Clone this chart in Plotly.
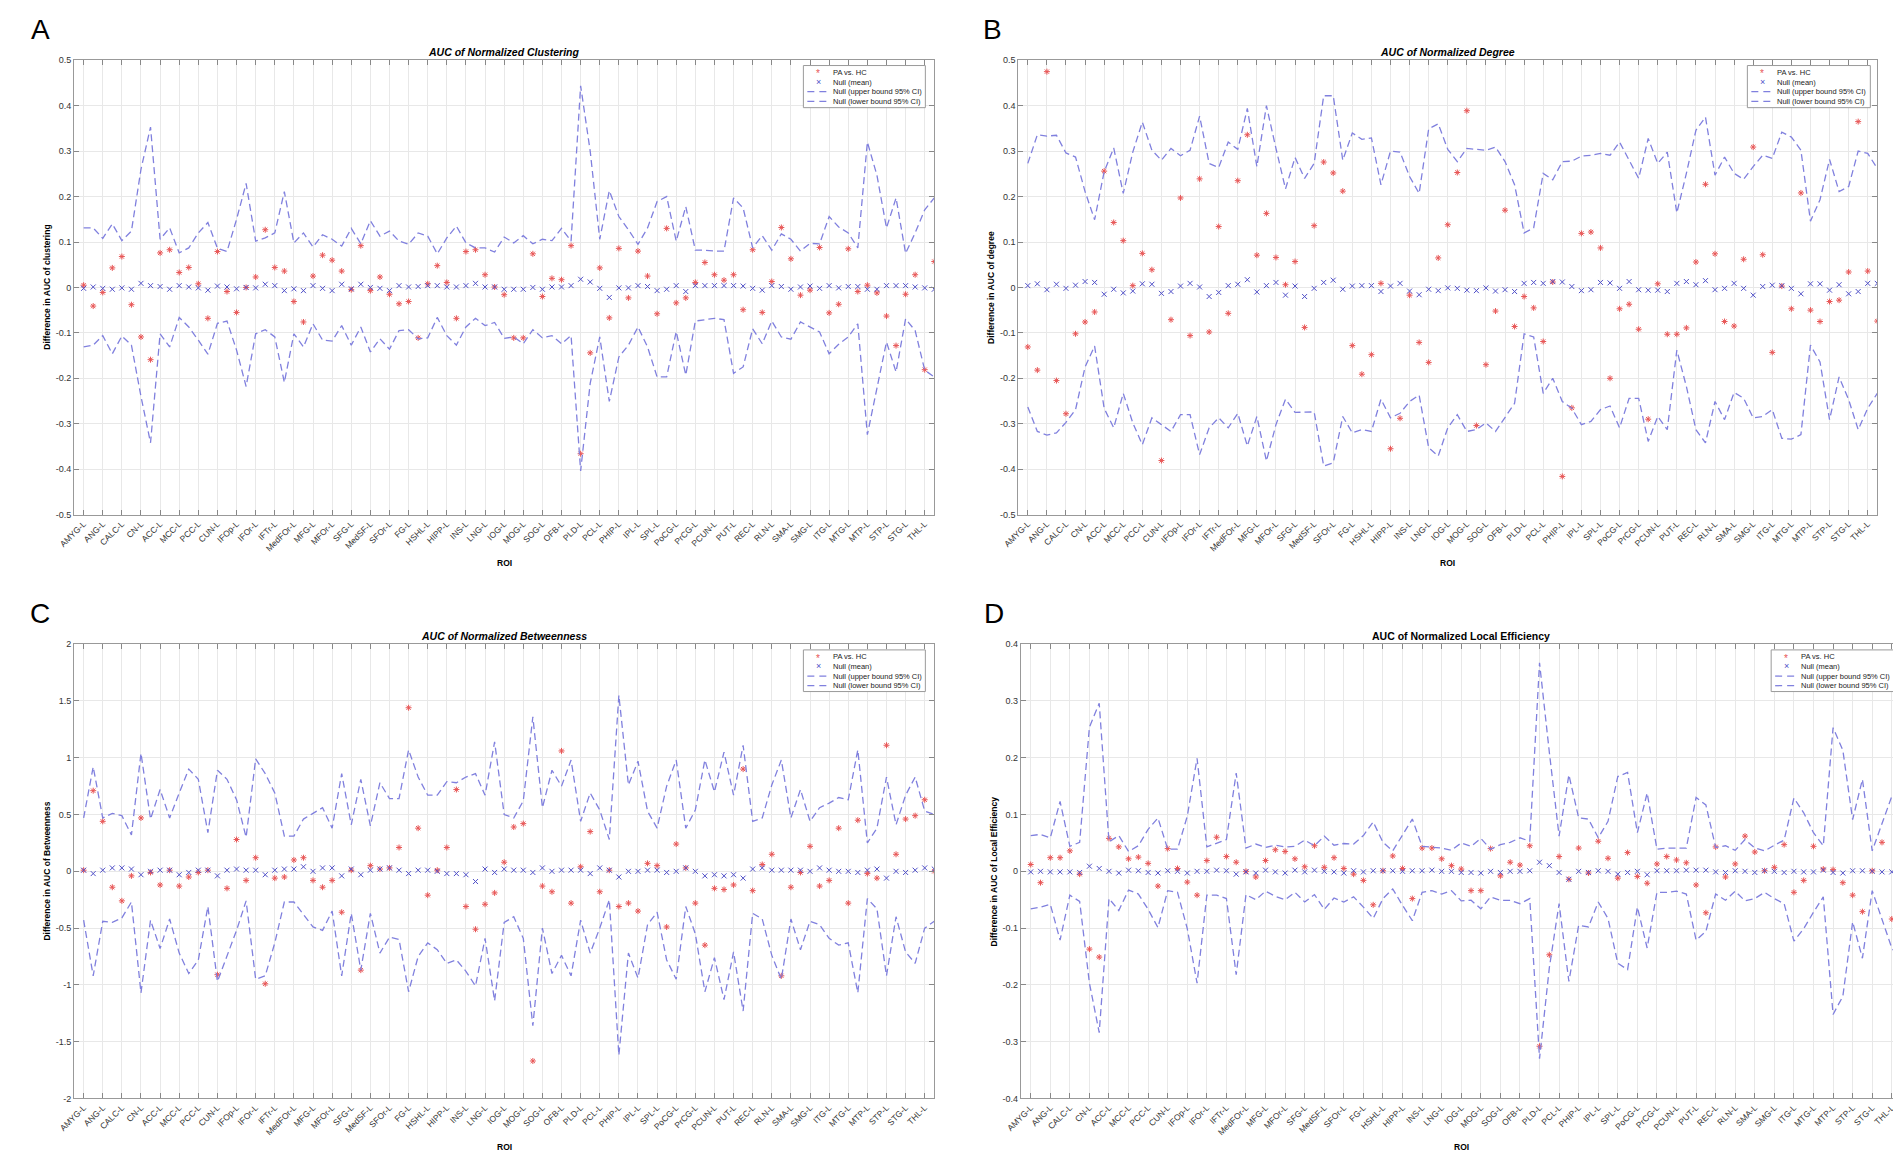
import plotly.graph_objects as go

# ROI tick labels (every other ROI, left hemisphere)
roi_labels = ["AMYG-L", "ANG-L", "CALC-L", "CN-L", "ACC-L", "MCC-L", "PCC-L", "CUN-L", "IFOp-L",
              "IFOr-L", "IFTr-L", "MedFOr-L", "MFG-L", "MFOr-L", "SFG-L", "MedSF-L", "SFOr-L", "FG-L",
              "HSHL-L", "HIPP-L", "INS-L", "LNG-L", "IOG-L", "MOG-L", "SOG-L", "OFB-L", "PLD-L",
              "PCL-L", "PHIP-L", "IPL-L", "SPL-L", "PoCG-L", "PrCG-L", "PCUN-L", "PUT-L", "REC-L",
              "RLN-L", "SMA-L", "SMG-L", "ITG-L", "MTG-L", "MTP-L", "STP-L", "STG-L", "THL-L"]
roi_index = list(range(1, 91))
roi_tick_index = list(range(1, 91, 2))
legend_names = ["PA vs. HC", "Null (mean)", "Null (upper bound 95% CI)", "Null (lower bound 95% CI)"]

# A: clustering
clus_obs = [0.005, -0.041, -0.011, 0.043, 0.068, -0.038, -0.109, -0.159, 0.076, 0.083, 0.033, 0.044, 0.008, -0.068, 0.079,
            -0.009, -0.055, 0.000, 0.023, 0.127, 0.044, 0.036, -0.031, -0.076, 0.025, 0.071, 0.060, 0.036, -0.005, 0.092,
            -0.007, 0.023, -0.015, -0.036, -0.031, -0.111, 0.008, 0.048, 0.011, -0.068, 0.079, 0.083, 0.028, 0.001, -0.016,
            -0.111, -0.111, 0.074, -0.020, 0.020, 0.017, 0.092, -0.366, -0.144, 0.043, -0.067, 0.086, -0.023, 0.080, 0.025,
            -0.058, 0.130, -0.034, -0.023, 0.011, 0.055, 0.028, 0.016, 0.028, -0.049, 0.083, -0.055, 0.013, 0.132, 0.063,
            -0.017, -0.006, 0.088, -0.056, -0.037, 0.085, -0.009, 0.005, -0.012, -0.063, -0.128, -0.015, 0.028, -0.181, 0.057]
clus_mean = [-0.002, 0.001, -0.002, -0.004, -0.001, -0.004, 0.009, 0.004, 0.002, -0.004, 0.004, 0.001, -0.001, -0.006, 0.003,
             0.001, -0.003, 0.000, -0.001, 0.007, 0.004, -0.007, -0.003, -0.007, 0.004, -0.002, -0.007, 0.007, -0.003, 0.007,
             0.000, -0.002, -0.007, 0.004, 0.001, 0.002, 0.004, 0.004, 0.001, 0.001, 0.004, 0.009, 0.001, 0.001, -0.004,
             -0.004, -0.004, 0.000, -0.004, 0.001, 0.001, 0.004, 0.018, 0.012, -0.002, -0.022, -0.001, -0.001, 0.004, 0.002,
             -0.007, -0.004, 0.004, -0.009, 0.004, 0.004, 0.004, 0.004, 0.004, 0.003, -0.002, -0.006, 0.004, 0.002, -0.004,
             0.001, 0.003, -0.002, 0.004, -0.001, 0.002, 0.002, -0.004, -0.004, 0.004, 0.004, 0.004, 0.001, -0.001, -0.004]
clus_up = [0.131, 0.131, 0.108, 0.140, 0.103, 0.124, 0.26, 0.353, 0.106, 0.131, 0.076, 0.087, 0.120, 0.143, 0.086,
           0.079, 0.15, 0.229, 0.102, 0.109, 0.120, 0.211, 0.098, 0.120, 0.089, 0.116, 0.106, 0.091, 0.130, 0.096,
           0.147, 0.113, 0.124, 0.102, 0.095, 0.120, 0.113, 0.074, 0.109, 0.135, 0.098, 0.087, 0.087, 0.078, 0.111,
           0.098, 0.114, 0.096, 0.106, 0.103, 0.130, 0.102, 0.444, 0.30, 0.106, 0.213, 0.156, 0.127, 0.095, 0.131,
           0.189, 0.200, 0.102, 0.178, 0.082, 0.082, 0.080, 0.080, 0.197, 0.175, 0.087, 0.114, 0.082, 0.118, 0.106,
           0.080, 0.097, 0.096, 0.156, 0.133, 0.120, 0.087, 0.320, 0.247, 0.131, 0.197, 0.075, 0.120, 0.171, 0.197]
clus_lo = [-0.131, -0.127, -0.106, -0.146, -0.107, -0.127, -0.24, -0.342, -0.102, -0.131, -0.066, -0.087, -0.116, -0.147, -0.079,
           -0.074, -0.138, -0.218, -0.102, -0.093, -0.109, -0.209, -0.102, -0.131, -0.080, -0.116, -0.118, -0.084, -0.127, -0.087,
           -0.142, -0.113, -0.136, -0.095, -0.093, -0.113, -0.111, -0.066, -0.106, -0.127, -0.087, -0.068, -0.084, -0.077, -0.112,
           -0.109, -0.124, -0.093, -0.111, -0.106, -0.124, -0.106, -0.404, -0.211, -0.109, -0.251, -0.153, -0.127, -0.087, -0.131,
           -0.197, -0.197, -0.097, -0.193, -0.074, -0.071, -0.068, -0.071, -0.189, -0.175, -0.091, -0.124, -0.074, -0.109, -0.114,
           -0.076, -0.087, -0.098, -0.146, -0.125, -0.109, -0.080, -0.324, -0.218, -0.120, -0.186, -0.069, -0.095, -0.182, -0.197]

# B: degree
deg_obs = [-0.131, -0.182, 0.475, -0.205, -0.278, -0.102, -0.076, -0.054, 0.256, 0.143, 0.103, 0.004, 0.075, 0.039, -0.381,
           -0.071, 0.197, -0.106, 0.239, -0.098, 0.134, -0.057, 0.235, 0.336, 0.071, 0.163, 0.066, 0.006, 0.057, -0.088,
           0.136, 0.276, 0.252, 0.212, -0.128, -0.191, -0.148, 0.009, -0.355, -0.288, -0.017, -0.121, -0.165, 0.065, 0.138,
           0.253, 0.389, -0.304, -0.170, -0.052, 0.170, -0.086, -0.020, -0.045, -0.119, 0.012, -0.416, -0.265, 0.119, 0.122,
           0.087, -0.200, -0.047, -0.037, -0.092, -0.290, 0.008, -0.103, -0.103, -0.089, 0.056, 0.227, 0.074, -0.075, -0.085,
           0.062, 0.309, 0.072, -0.143, 0.003, -0.047, 0.208, -0.050, -0.075, -0.031, -0.028, 0.034, 0.365, 0.036, -0.074]
deg_mean = [0.004, 0.008, -0.005, 0.007, -0.002, 0.005, 0.013, 0.011, -0.015, -0.004, -0.012, -0.008, 0.008, 0.007, -0.013,
            -0.009, 0.003, 0.009, 0.001, -0.020, -0.011, 0.004, 0.007, 0.017, -0.010, 0.004, 0.011, -0.017, 0.003, -0.020,
            -0.002, 0.011, 0.016, -0.004, 0.003, 0.004, 0.004, -0.009, 0.003, 0.009, -0.008, -0.016, -0.004, -0.007, -0.001,
            -0.002, -0.006, -0.007, -0.001, -0.008, -0.005, -0.009, 0.009, 0.011, 0.009, 0.013, 0.012, 0.002, -0.007, -0.005,
            0.011, 0.010, -0.002, 0.013, -0.005, -0.006, -0.006, -0.009, 0.009, 0.013, 0.006, 0.015, -0.005, -0.002, 0.009,
            -0.002, -0.017, 0.002, 0.005, 0.004, -0.002, -0.014, 0.008, 0.008, -0.006, 0.006, -0.014, -0.009, 0.009, 0.009]
deg_up = [0.273, 0.336, 0.333, 0.335, 0.296, 0.287, 0.211, 0.149, 0.255, 0.307, 0.207, 0.298, 0.364, 0.302, 0.280,
          0.306, 0.290, 0.302, 0.377, 0.273, 0.264, 0.320, 0.304, 0.394, 0.266, 0.400, 0.306, 0.217, 0.286, 0.240,
          0.273, 0.422, 0.422, 0.280, 0.340, 0.326, 0.329, 0.226, 0.300, 0.298, 0.244, 0.207, 0.349, 0.360, 0.304,
          0.277, 0.306, 0.304, 0.302, 0.309, 0.277, 0.226, 0.120, 0.131, 0.251, 0.237, 0.277, 0.278, 0.289, 0.291,
          0.295, 0.291, 0.320, 0.280, 0.240, 0.328, 0.273, 0.298, 0.164, 0.251, 0.346, 0.375, 0.247, 0.287, 0.251,
          0.238, 0.266, 0.291, 0.284, 0.342, 0.331, 0.302, 0.146, 0.193, 0.282, 0.211, 0.222, 0.300, 0.295, 0.262]
deg_lo = [-0.263, -0.317, -0.325, -0.320, -0.297, -0.269, -0.175, -0.129, -0.266, -0.309, -0.233, -0.298, -0.346, -0.287, -0.302,
          -0.317, -0.280, -0.280, -0.368, -0.309, -0.287, -0.309, -0.277, -0.349, -0.284, -0.382, -0.302, -0.246, -0.275, -0.274,
          -0.274, -0.393, -0.386, -0.284, -0.320, -0.313, -0.317, -0.246, -0.287, -0.277, -0.251, -0.237, -0.353, -0.371, -0.309,
          -0.280, -0.317, -0.313, -0.298, -0.317, -0.287, -0.255, -0.102, -0.109, -0.233, -0.200, -0.251, -0.266, -0.302, -0.295,
          -0.269, -0.261, -0.309, -0.244, -0.244, -0.339, -0.284, -0.313, -0.138, -0.218, -0.313, -0.342, -0.251, -0.291, -0.231,
          -0.244, -0.287, -0.284, -0.269, -0.332, -0.334, -0.324, -0.127, -0.164, -0.291, -0.197, -0.247, -0.313, -0.266, -0.233]

# C: betweenness
betw_obs = [0.01, 0.71, 0.44, -0.14, -0.26, -0.04, 0.47, -0.01, -0.12, 0.01, -0.13, -0.05, -0.01, 0.01, -0.91,
            -0.15, 0.28, -0.08, 0.12, -0.99, -0.06, -0.05, 0.10, 0.12, -0.08, -0.14, -0.08, -0.36, 0.01, -0.87,
            0.05, 0.02, 0.03, 0.21, 1.44, 0.38, -0.21, 0.01, 0.21, 0.72, -0.31, -0.51, -0.29, -0.19, 0.08,
            0.39, 0.42, -1.67, -0.13, -0.18, 1.06, -0.28, 0.04, 0.35, -0.18, 0.01, -0.31, -0.28, -0.35, 0.07,
            0.05, -0.49, 0.24, 0.03, -0.28, -0.65, -0.15, -0.16, -0.12, 0.90, -0.17, 0.06, 0.15, -0.92, -0.14,
            -0.01, 0.22, -0.13, -0.08, 0.38, -0.28, 0.45, -0.02, -0.06, 1.11, 0.15, 0.46, 0.49, 0.63, 0.00]
betw_mean = [0.01, -0.02, 0.01, 0.03, 0.03, 0.02, -0.03, 0.00, 0.01, 0.01, -0.03, -0.01, 0.01, 0.01, -0.04,
             0.01, 0.02, 0.01, 0.01, -0.03, 0.01, 0.02, 0.02, 0.04, 0.00, 0.03, 0.03, -0.04, 0.02, -0.03,
             0.01, 0.02, 0.03, 0.01, -0.02, 0.01, 0.01, 0.00, -0.02, -0.02, -0.03, -0.09, 0.02, -0.01, 0.02,
             0.01, 0.01, -0.01, 0.03, 0.00, 0.01, 0.01, 0.01, -0.02, 0.03, 0.01, -0.05, 0.00, 0.00, 0.01,
             0.01, -0.01, 0.00, 0.03, 0.00, -0.04, -0.03, -0.04, -0.03, -0.06, 0.02, 0.03, 0.01, 0.01, 0.01,
             0.01, 0.00, 0.03, 0.01, 0.00, 0.00, -0.01, 0.01, 0.02, -0.06, 0.00, -0.01, 0.01, 0.03, 0.02]
betw_up = [0.47, 0.92, 0.47, 0.51, 0.49, 0.32, 1.04, 0.46, 0.72, 0.47, 0.69, 0.90, 0.81, 0.34, 0.89,
           0.81, 0.63, 0.30, 0.99, 0.86, 0.69, 0.31, 0.31, 0.46, 0.51, 0.56, 0.38, 0.86, 0.41, 0.81,
           0.40, 0.78, 0.64, 0.64, 1.07, 0.83, 0.67, 0.67, 0.79, 0.78, 0.83, 0.86, 0.67, 1.14, 0.50,
           0.47, 0.62, 1.36, 0.56, 0.89, 0.75, 0.98, 0.44, 0.69, 0.54, 0.28, 1.55, 0.76, 0.97, 0.53,
           0.38, 0.75, 0.98, 0.38, 0.54, 0.98, 0.70, 1.05, 0.67, 1.11, 0.44, 0.47, 0.76, 0.98, 0.47,
           0.72, 0.44, 0.56, 0.60, 0.65, 0.63, 1.07, 0.25, 0.38, 0.83, 0.41, 0.67, 0.83, 0.53, 0.50]
betw_lo = [-0.43, -0.92, -0.44, -0.45, -0.41, -0.27, -1.07, -0.43, -0.68, -0.42, -0.72, -0.90, -0.78, -0.31, -0.97,
           -0.74, -0.52, -0.26, -0.95, -0.92, -0.63, -0.27, -0.27, -0.38, -0.49, -0.52, -0.35, -0.92, -0.37, -0.87,
           -0.37, -0.72, -0.58, -0.60, -1.06, -0.75, -0.63, -0.69, -0.81, -0.78, -0.88, -1.01, -0.59, -1.14, -0.45,
           -0.40, -0.59, -1.36, -0.50, -0.90, -0.74, -0.92, -0.43, -0.72, -0.50, -0.25, -1.62, -0.72, -0.94, -0.47,
           -0.36, -0.78, -0.95, -0.31, -0.55, -1.06, -0.76, -1.13, -0.71, -1.23, -0.37, -0.42, -0.74, -0.95, -0.42,
           -0.69, -0.44, -0.47, -0.59, -0.65, -0.63, -1.07, -0.24, -0.33, -0.92, -0.40, -0.71, -0.81, -0.50, -0.44]

# D: local efficiency
leff_obs = [0.012, -0.020, 0.024, 0.024, 0.036, -0.005, -0.137, -0.151, 0.058, 0.043, 0.022, 0.025, 0.014, -0.026, 0.040,
            0.005, -0.019, -0.042, 0.019, 0.060, 0.026, 0.016, 0.000, -0.010, 0.019, 0.038, 0.035, 0.022, 0.008, 0.045,
            0.007, 0.024, 0.005, -0.005, -0.016, -0.059, 0.001, 0.027, 0.005, -0.048, 0.041, 0.041, 0.022, 0.010, 0.004,
            -0.034, -0.034, 0.040, -0.008, 0.016, 0.011, 0.045, -0.308, -0.147, 0.026, -0.014, 0.041, -0.003, 0.053, 0.023,
            -0.012, 0.033, -0.009, -0.021, 0.013, 0.026, 0.020, 0.015, -0.024, -0.073, 0.043, -0.010, 0.013, 0.062, 0.034,
            0.001, 0.007, 0.047, -0.037, -0.016, 0.044, 0.004, 0.003, -0.020, -0.042, -0.071, 0.001, 0.051, -0.084, 0.062]
leff_mean = [-0.001, 0.000, -0.001, -0.001, -0.001, -0.002, 0.009, 0.005, 0.000, -0.003, 0.002, 0.001, -0.002, -0.003, 0.001,
             0.000, -0.003, 0.000, 0.000, 0.002, 0.001, -0.005, -0.001, -0.003, 0.002, -0.001, -0.003, 0.002, -0.001, 0.002,
             0.000, -0.001, -0.003, 0.001, -0.001, 0.001, 0.001, 0.001, 0.000, 0.001, 0.001, 0.002, 0.000, 0.000, -0.002,
             -0.002, -0.003, 0.000, -0.002, 0.000, 0.000, 0.001, 0.016, 0.010, -0.002, -0.014, 0.000, -0.002, 0.001, 0.000,
             -0.005, -0.002, 0.000, -0.006, 0.001, 0.001, 0.001, 0.002, 0.002, 0.002, -0.001, -0.002, 0.001, 0.000, -0.002,
             0.001, 0.000, -0.002, 0.000, -0.001, -0.001, 0.002, -0.002, -0.003, 0.001, 0.001, 0.000, -0.001, -0.001, 0.000]
leff_up = [0.063, 0.065, 0.059, 0.123, 0.044, 0.051, 0.254, 0.296, 0.052, 0.063, 0.035, 0.045, 0.074, 0.094, 0.039,
           0.039, 0.097, 0.199, 0.043, 0.049, 0.056, 0.173, 0.041, 0.048, 0.042, 0.046, 0.043, 0.044, 0.055, 0.045,
           0.062, 0.046, 0.049, 0.048, 0.063, 0.087, 0.051, 0.036, 0.065, 0.092, 0.044, 0.042, 0.041, 0.037, 0.050,
           0.044, 0.058, 0.039, 0.047, 0.051, 0.059, 0.053, 0.367, 0.21, 0.062, 0.170, 0.094, 0.092, 0.059, 0.088,
           0.167, 0.174, 0.068, 0.138, 0.039, 0.041, 0.041, 0.041, 0.130, 0.117, 0.042, 0.045, 0.037, 0.056, 0.041,
           0.036, 0.046, 0.055, 0.129, 0.103, 0.068, 0.045, 0.253, 0.213, 0.091, 0.162, 0.036, 0.083, 0.132, 0.155]
leff_lo = [-0.066, -0.063, -0.058, -0.121, -0.042, -0.053, -0.197, -0.284, -0.048, -0.069, -0.033, -0.040, -0.067, -0.099, -0.034,
           -0.037, -0.101, -0.197, -0.042, -0.042, -0.048, -0.182, -0.041, -0.050, -0.035, -0.044, -0.050, -0.037, -0.054, -0.041,
           -0.067, -0.047, -0.054, -0.045, -0.063, -0.083, -0.048, -0.031, -0.060, -0.087, -0.037, -0.034, -0.040, -0.034, -0.052,
           -0.051, -0.066, -0.045, -0.051, -0.051, -0.057, -0.048, -0.330, -0.170, -0.057, -0.194, -0.095, -0.098, -0.054, -0.083,
           -0.162, -0.173, -0.063, -0.135, -0.037, -0.037, -0.035, -0.040, -0.121, -0.106, -0.040, -0.051, -0.035, -0.052, -0.048,
           -0.037, -0.048, -0.057, -0.123, -0.101, -0.072, -0.045, -0.252, -0.220, -0.089, -0.153, -0.034, -0.086, -0.135, -0.159]

# y ticks per panel
ytick_small = [-0.5, -0.4, -0.3, -0.2, -0.1, 0, 0.1, 0.2, 0.3, 0.4, 0.5]
ytick_betw = [-2, -1.5, -1, -0.5, 0, 0.5, 1, 1.5, 2]
ytick_leff = [-0.4, -0.3, -0.2, -0.1, 0, 0.1, 0.2, 0.3, 0.4]

W, H = 1901, 1150
FONT = "Liberation Sans"
RED = "rgb(232,86,86)"
BLUE = "rgb(80,80,200)"
DASH = "rgb(128,128,222)"


def px(x):
    return x / W


def py(y):
    return 1 - y / H


panels = [
    # letter, title, ytitle, data, yticks, xdom(px), ydom(px), letter offset, legend box (px)
    ("A", "<b><i>AUC of Normalized Clustering</i></b>", "Difference in AUC of clustering",
     (clus_obs, clus_mean, clus_up, clus_lo), ytick_small, (50.5, 918), (47.7, 506), 34, (786, 53, 909, 95.5)),
    ("B", "<b><i>AUC of Normalized Degree</i></b>", "Difference in AUC of degree",
     (deg_obs, deg_mean, deg_up, deg_lo), ytick_small, (1002.7, 1869), (47.7, 506), 26, (1738, 53, 1862, 95.5)),
    ("C", "<b><i>AUC of Normalized Betweenness</i></b>", "Difference in AUC of Betweenness",
     (betw_obs, betw_mean, betw_up, betw_lo), ytick_betw, (50.5, 918), (636.7, 1095), 34, (786, 642.5, 909, 684.5)),
    ("D", "<b>AUC of Normalized Local Efficiency</b>", "Difference in AUC of Local Efficiency",
     (leff_obs, leff_mean, leff_up, leff_lo), ytick_leff, (1005.4, 1893.5), (636.7, 1095), 27, (1762, 642.5, 1889, 684.5)),
]

fig = go.Figure()
annotations = []
shapes = []
layout = {}

for k, (letter, title, ytitle, data, yticks, xd, yd, loff, lb) in enumerate(panels):
    n = "" if k == 0 else str(k + 1)
    obs, mean, up, lo = data
    common = dict(x=roi_index, xaxis="x" + n, yaxis="y" + n, showlegend=False)
    fig.add_trace(go.Scatter(y=obs, mode="markers", name=legend_names[0],
                             marker=dict(symbol="asterisk-open", size=5, color=RED,
                                         line=dict(color=RED, width=1)), **common))
    fig.add_trace(go.Scatter(y=mean, mode="markers", name=legend_names[1],
                             marker=dict(symbol="x-thin-open", size=5, color=BLUE,
                                         line=dict(color=BLUE, width=1)), **common))
    fig.add_trace(go.Scatter(y=up, mode="lines", name=legend_names[2],
                             line=dict(color=DASH, width=1.3, dash="7px,4px"), **common))
    fig.add_trace(go.Scatter(y=lo, mode="lines", name=legend_names[3],
                             line=dict(color=DASH, width=1.3, dash="7px,4px"), **common))

    layout["xaxis" + n] = dict(
        domain=[px(xd[0]), px(xd[1])], anchor="y" + n, range=[0, 90],
        tickvals=roi_tick_index, ticktext=roi_labels, tickangle=-45,
        tickfont=dict(size=8.5, color="#333"), ticks="inside", ticklen=5, tickcolor="#888",
        showline=True, linecolor="#999", linewidth=1, mirror="ticks",
        showgrid=True, gridcolor="rgb(232,232,232)", gridwidth=1, zeroline=False)
    layout["yaxis" + n] = dict(
        domain=[py(yd[1]), py(yd[0])], anchor="x" + n, range=[yticks[0], yticks[-1]],
        tickvals=yticks, ticktext=["%g" % v for v in yticks],
        tickfont=dict(size=9, color="#333"), ticks="inside", ticklen=5, tickcolor="#888",
        showline=True, linecolor="#999", linewidth=1, mirror="ticks",
        showgrid=True, gridcolor="rgb(232,232,232)", gridwidth=1, zeroline=False)

    xc = (xd[0] + xd[1]) / 2
    annotations += [
        dict(text=letter, x=px(xd[0] - loff), y=py(yd[0] - 31), xref="paper", yref="paper",
             showarrow=False, font=dict(family=FONT, size=28, color="black"),
             xanchor="center", yanchor="middle"),
        dict(text=title, x=px(xc), y=py(yd[0] - 8), xref="paper", yref="paper", showarrow=False,
             font=dict(family=FONT, size=10.5, color="black"), xanchor="center", yanchor="middle"),
        dict(text="<b>" + ytitle + "</b>", x=px(xd[0] - 27), y=py((yd[0] + yd[1]) / 2),
             xref="paper", yref="paper", showarrow=False, textangle=-90,
             font=dict(family=FONT, size=8.5, color="black"), xanchor="center", yanchor="middle"),
        dict(text="<b>ROI</b>", x=px(xc), y=py(yd[1] + 49), xref="paper", yref="paper",
             showarrow=False, font=dict(family=FONT, size=8.5, color="black"),
             xanchor="center", yanchor="middle"),
    ]

    # compact MATLAB-style legend box
    x0, y0, x1, y1 = lb
    step = 9.7
    shapes.append(dict(type="rect", xref="paper", yref="paper", x0=px(x0), x1=px(x1),
                       y0=py(y1), y1=py(y0), line=dict(color="#9a9a9a", width=1),
                       fillcolor="white", layer="above"))
    rows = [y0 + 7 + i * step for i in range(4)]
    annotations.append(dict(text="*", x=px(x0 + 15), y=py(rows[0] + 1.5), xref="paper", yref="paper",
                            showarrow=False, font=dict(family=FONT, size=10, color=RED),
                            xanchor="center", yanchor="middle"))
    annotations.append(dict(text="\u00d7", x=px(x0 + 15), y=py(rows[1]), xref="paper", yref="paper",
                            showarrow=False, font=dict(family=FONT, size=9, color=BLUE),
                            xanchor="center", yanchor="middle"))
    for r in rows[2:]:
        shapes.append(dict(type="line", xref="paper", yref="paper", x0=px(x0 + 4), x1=px(x0 + 25),
                           y0=py(r), y1=py(r), line=dict(color=DASH, width=1.3, dash="7px,5px"),
                           layer="above"))
    for name, r in zip(legend_names, rows):
        annotations.append(dict(text=name, x=px(x0 + 28), y=py(r), xref="paper", yref="paper",
                                showarrow=False, font=dict(family=FONT, size=7.5, color="#222"),
                                xanchor="left", yanchor="middle"))

fig.update_layout(
    width=W, height=H, margin=dict(l=0, r=0, t=0, b=0),
    paper_bgcolor="white", plot_bgcolor="white",
    font=dict(family=FONT, color="black"), showlegend=False,
    annotations=annotations, shapes=shapes, **layout)

fig.write_html("out.html")
